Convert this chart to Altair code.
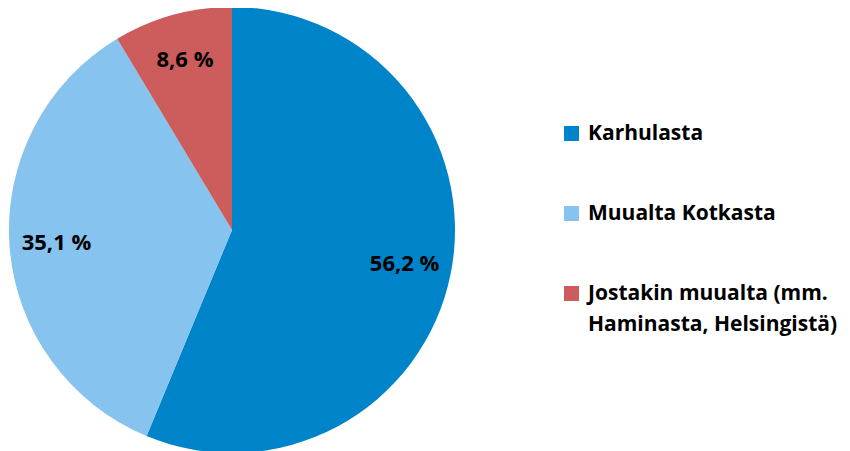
import altair as alt
import pandas as pd

categories = ["Karhulasta", "Muualta Kotkasta", "Jostakin muualta (mm. Haminasta, Helsingistä)"]
values = [56.2, 35.1, 8.6]
colors = ["#0084C9", "#86C3EE", "#CD5C5C"]

df = pd.DataFrame({
    "category": categories,
    "value": values,
    "order": list(range(len(categories))),
    "label": [f"{v:.1f} %".replace(".", ",") for v in values],
})

FONT = "Open Sans"
CX, CY, R = 224, 222, 223

base = alt.Chart(df).encode(
    theta=alt.Theta("value:Q", stack=True),
    order=alt.Order("order:Q"),
)

arcs = base.mark_arc(outerRadius=R, x=CX, y=CY).encode(
    color=alt.Color(
        "category:N",
        scale=alt.Scale(domain=categories, range=colors),
        sort=categories,
        legend=alt.Legend(
            title=None,
            orient="none",
            legendX=553,
            legendY=115,
            symbolType="square",
            symbolSize=225,
            symbolStrokeWidth=0,
            labelFont=FONT,
            labelFontSize=21,
            labelFontWeight="bold",
            labelColor="#000000",
            labelLimit=400,
            labelOffset=6,
            rowPadding=58,
            labelBaseline="middle",
            labelExpr="datum.label == 'Jostakin muualta (mm. Haminasta, Helsingistä)' ? ['Jostakin muualta (mm.', 'Haminasta, Helsingistä)'] : datum.label",
        ),
    )
)

texts = base.mark_text(
    radius=176, x=CX, y=CY, font=FONT, fontSize=22, fontWeight="bold", color="#000000"
).encode(text="label:N")

chart = (
    alt.layer(arcs, texts)
    .properties(width=834, height=443, autosize=alt.AutoSizeParams(type="none"), padding=0)
    .configure_view(stroke=None)
    .configure(style={"guide-label": {"lineHeight": 31}})
)

chart.save("out.html", embed_options={"renderer": "svg", "actions": False})
